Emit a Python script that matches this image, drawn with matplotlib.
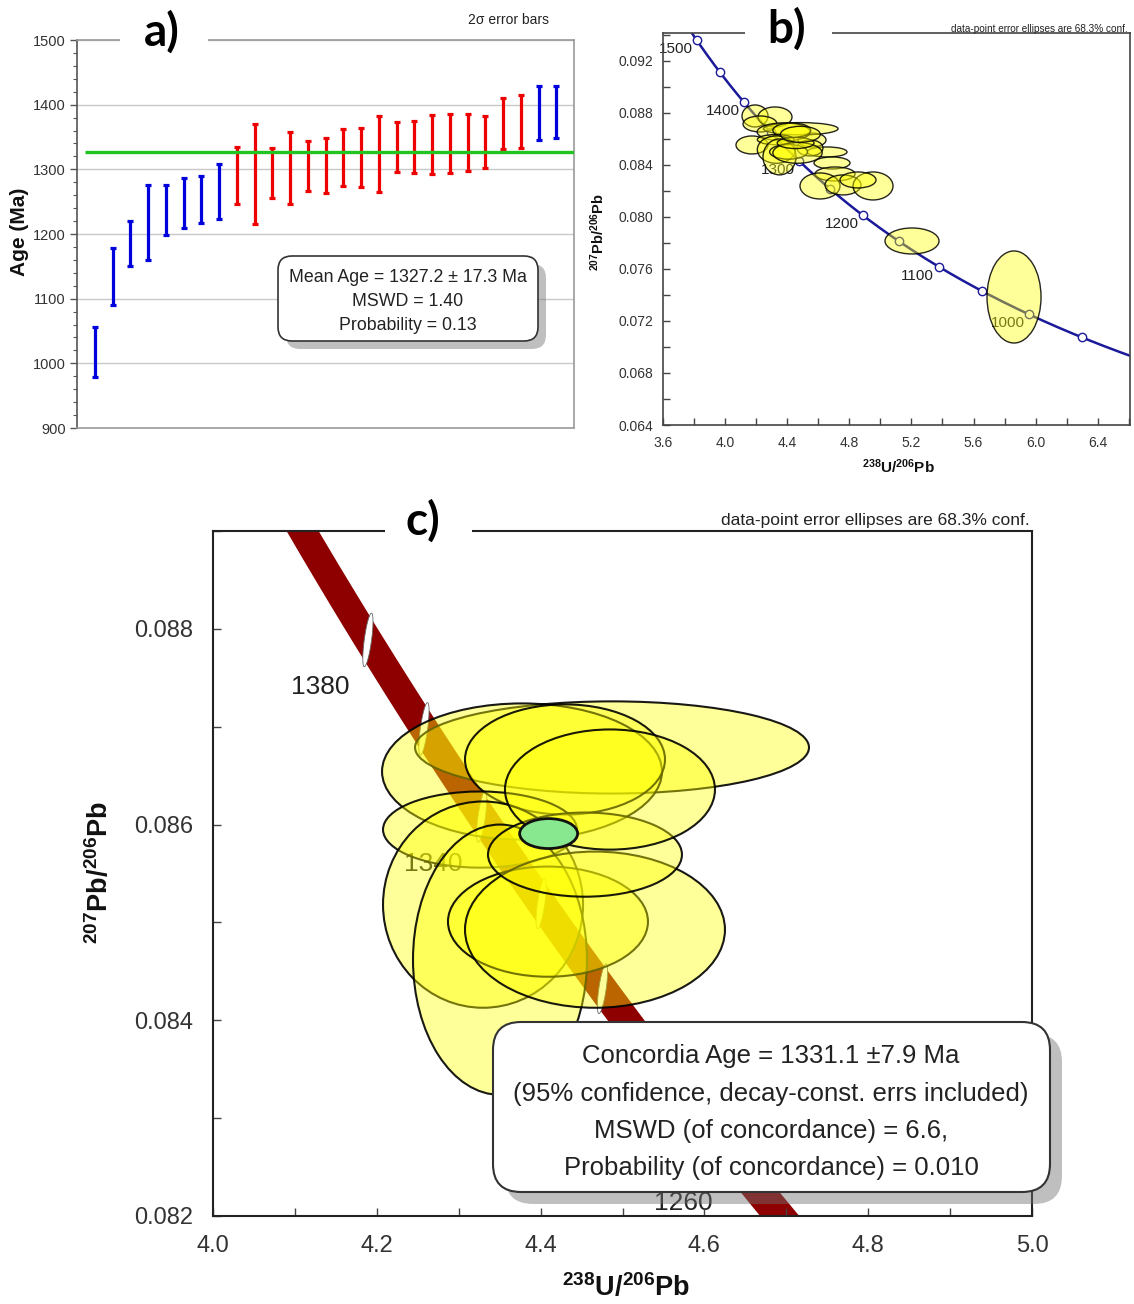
import numpy as np
import matplotlib
matplotlib.use("Agg")
import matplotlib.pyplot as plt
from matplotlib.patches import Ellipse, FancyBboxPatch, Polygon
from matplotlib.ticker import MultipleLocator, FormatStrFormatter

plt.rcParams['font.family'] = ['Liberation Sans', 'DejaVu Sans']
plt.rcParams['mathtext.fontset'] = 'custom'
plt.rcParams['mathtext.rm'] = 'Liberation Sans'
plt.rcParams['mathtext.bf'] = 'Liberation Sans:bold'

# ---------------- panel a: single-grain ages (Ma) with 2-sigma errors ----------------
AGE_MID = [1017.5, 1134.0, 1185.5, 1217.5, 1237.0, 1248.0, 1253.5, 1266.0,
           1291.0, 1293.0, 1294.0, 1302.0, 1305.5, 1306.0, 1318.5, 1318.5,
           1324.0, 1334.5, 1334.5, 1338.5, 1339.5, 1341.0, 1342.0, 1371.0,
           1374.5, 1387.0, 1388.5]
AGE_ERR2S = [38.5, 44.0, 34.5, 57.5, 38.0, 38.0, 36.5, 43.0,
             44.0, 77.0, 39.0, 55.0, 38.5, 42.0, 44.5, 45.5,
             59.0, 38.5, 39.5, 45.5, 45.5, 44.0, 40.0, 40.0,
             41.0, 42.0, 40.5]
# True = included in the weighted mean (red), False = excluded (blue)
AGE_USED = [False] * 8 + [True] * 17 + [False] * 2
MEAN_AGE = 1327.2
MEAN_AGE_ERR = 17.3
MEAN_MSWD = 1.40
MEAN_PROB = 0.13

# ---------------- panels b, c: Tera-Wasserburg data ----------------
# analyses used for the concordia age: 238U/206Pb, 207Pb/206Pb, 1-sigma semi-axes
SEL_X = [4.4872, 4.3773, 4.4298, 4.3260, 4.3297, 4.3504, 4.4090, 4.4664, 4.4542, 4.4847]
SEL_Y = [0.086788, 0.086542, 0.086665, 0.085949, 0.085182, 0.084619, 0.085008,
         0.084926, 0.085693, 0.086358]
SEL_SX = [0.2405, 0.1709, 0.1221, 0.1184, 0.1221, 0.1062, 0.1221, 0.1587, 0.1184, 0.1282]
SEL_SY = [0.000471, 0.000696, 0.000563, 0.000389, 0.001054, 0.001381, 0.000563,
          0.000798, 0.000430, 0.000614]
# other analyses (overview only)
OTH_X = [4.1926, 4.3214, 4.2248, 4.1733, 4.5598, 4.6564, 4.6886, 4.7079, 4.6113,
         4.7594, 4.9527, 4.8560, 4.5469, 5.8610, 5.2039]
OTH_Y = [0.087769, 0.087692, 0.087154, 0.085538, 0.085923, 0.085000, 0.084154,
         0.083308, 0.082385, 0.082462, 0.082385, 0.082846, 0.085308, 0.073846, 0.078154]
OTH_SX = [0.0837, 0.1095, 0.1095, 0.1031, 0.0902, 0.1288, 0.1159, 0.1288, 0.1288,
          0.1159, 0.1288, 0.1160, 0.0837, 0.1739, 0.1739]
OTH_SY = [0.000846, 0.000769, 0.000615, 0.000692, 0.000538, 0.000385, 0.000462,
          0.000538, 0.001000, 0.000769, 0.001077, 0.000615, 0.000615, 0.003540, 0.001000]

# weighted-mean point of the concordia age
CONC_X, CONC_Y = 4.4098, 0.085908
CONC_SX, CONC_SY = 0.0354, 0.000153
CONC_AGE = 1331.1
CONC_AGE_ERR = 7.9
CONC_MSWD = 6.6
CONC_PROB = 0.010

# concordia age ticks
B_TICK_AGES = [1500, 1450, 1400, 1350, 1300, 1250, 1200, 1150, 1100, 1050, 1000, 950]
B_LABEL_AGES = [1500, 1400, 1300, 1200, 1100, 1000]
C_TICK_AGES = [1380, 1360, 1340, 1320, 1300, 1280, 1260]
C_LABEL_AGES = [1380, 1340, 1300, 1260]

# decay constants (1/yr) and present-day 238U/235U
LAMBDA_238 = 1.55125e-10
LAMBDA_235 = 9.8485e-10
U238_U235 = 137.88
LAMBDA_235_REL_ERR = 0.0017


def tera_wasserburg(age_ma, lam235=LAMBDA_235):
    t = np.asarray(age_ma, dtype=float) * 1e6
    e238 = np.expm1(LAMBDA_238 * t)
    e235 = np.expm1(lam235 * t)
    return 1.0 / e238, e235 / e238 / U238_U235


W, H = 1134, 1304
fig = plt.figure(figsize=(W / 100, H / 100), dpi=100)


def px_rect(left, top, right, bottom):
    return [left / W, 1 - bottom / H, (right - left) / W, (bottom - top) / H]


# ======================= panel a =======================
axa = fig.add_axes(px_rect(77, 40, 574, 428))
n = len(AGE_MID)
idx = np.arange(1, n + 1)
axa.set_xlim(0, n + 1)
axa.set_ylim(900, 1500)
mid = np.array(AGE_MID)
err = np.array(AGE_ERR2S)
used = np.array(AGE_USED)
for mask, col in [(~used, '#0000dd'), (used, '#ee0000')]:
    axa.errorbar(idx[mask], mid[mask], yerr=err[mask], fmt='none', ecolor=col,
                 elinewidth=2.3, capsize=2.3, capthick=2.3, zorder=3)
axa.hlines(MEAN_AGE, 0.45, n + 1, color='#22c422', lw=2.4, zorder=4)
axa.yaxis.set_major_locator(MultipleLocator(100))
axa.yaxis.set_minor_locator(MultipleLocator(20))
axa.grid(axis='y', which='major', color='#c8c8c8', lw=1.0, zorder=0)
axa.set_xticks([])
axa.tick_params(axis='y', which='major', direction='out', length=5, width=1,
                color='#555', labelsize=10.5, labelcolor='#333', pad=3)
axa.tick_params(axis='y', which='minor', direction='out', length=3, width=0.8, color='#555')
axa.spines['left'].set_color('#555')
for s in ['top', 'right', 'bottom']:
    axa.spines[s].set_color('#9a9a9a')
for s in axa.spines.values():
    s.set_linewidth(1.2)

# ======================= panel b =======================
axb = fig.add_axes(px_rect(663, 33, 1130, 425))
axb.set_xlim(3.6, 6.608)
axb.set_ylim(0.064, 0.09415)
tc = np.linspace(880, 1560, 500)
cx, cy = tera_wasserburg(tc)
axb.plot(cx, cy, color='#1a1a9a', lw=1.8, zorder=2)
mx, my = tera_wasserburg(B_TICK_AGES)
axb.plot(mx, my, 'o', ms=6, mfc='white', mec='#1a1a9a', mew=1.0, zorder=2.5)
for a in B_LABEL_AGES:
    x0, y0 = tera_wasserburg(a)
    axb.annotate(str(a), (x0, y0), xytext=(-21, -9), textcoords='offset pixels',
                 ha='center', va='center', fontsize=11, color='#222', zorder=1.5)
for x, y, sx, sy in zip(OTH_X + SEL_X, OTH_Y + SEL_Y, OTH_SX + SEL_SX, OTH_SY + SEL_SY):
    axb.add_patch(Ellipse((x, y), 2 * sx, 2 * sy, facecolor=(1, 1, 0, 0.4),
                          edgecolor=(0, 0, 0, 0.85), lw=1.0, zorder=3))
axb.xaxis.set_major_locator(MultipleLocator(0.4))
axb.xaxis.set_minor_locator(MultipleLocator(0.2))
axb.yaxis.set_major_locator(MultipleLocator(0.004))
axb.yaxis.set_minor_locator(MultipleLocator(0.002))
axb.xaxis.set_major_formatter(FormatStrFormatter('%.1f'))
axb.yaxis.set_major_formatter(FormatStrFormatter('%.3f'))
axb.tick_params(which='both', direction='in', length=5, width=1, color='#444',
                labelsize=10, labelcolor='#333')
axb.tick_params(axis='y', pad=7)
axb.tick_params(axis='x', pad=8)
for s in axb.spines.values():
    s.set_color('#444')
    s.set_linewidth(1.2)

# ======================= panel c =======================
axc = fig.add_axes(px_rect(213, 531, 1032, 1216))
axc.set_xlim(4.0, 5.0)
axc.set_ylim(0.082, 0.089)
tb = np.linspace(1200, 1460, 400)
bx, _ = tera_wasserburg(tb)
_, blo = tera_wasserburg(tb, LAMBDA_235 * (1 - LAMBDA_235_REL_ERR))
_, bhi = tera_wasserburg(tb, LAMBDA_235 * (1 + LAMBDA_235_REL_ERR))
axc.fill_between(bx, blo, bhi, color='#8e0000', lw=0, zorder=1)
th = np.linspace(0, 2 * np.pi, 80)
for a in C_TICK_AGES:
    x0, _ = tera_wasserburg(a)
    _, ylo = tera_wasserburg(a, LAMBDA_235 * (1 - LAMBDA_235_REL_ERR))
    _, yhi = tera_wasserburg(a, LAMBDA_235 * (1 + LAMBDA_235_REL_ERR))
    yc = 0.5 * (ylo + yhi)
    hy = 0.5 * (yhi - ylo)
    ex = x0 + 0.0043 * np.sin(th) + 0.0045 * np.cos(th)
    ey = yc + hy * np.sin(th)
    axc.add_patch(Polygon(np.column_stack([ex, ey]), closed=True, facecolor='white',
                          edgecolor='#666', lw=0.6, zorder=1.2))
for a in C_LABEL_AGES:
    x0, y0 = tera_wasserburg(a)
    axc.annotate(str(a), (x0, y0), xytext=(-48, -47), textcoords='offset pixels',
                 ha='center', va='center', fontsize=19, color='#222', zorder=1.5)
for x, y, sx, sy in zip(SEL_X, SEL_Y, SEL_SX, SEL_SY):
    axc.add_patch(Ellipse((x, y), 2 * sx, 2 * sy, facecolor=(1, 1, 0, 0.4),
                          edgecolor=(0, 0, 0, 0.9), lw=1.5, zorder=3))
axc.add_patch(Ellipse((CONC_X, CONC_Y), 2 * CONC_SX, 2 * CONC_SY, facecolor='#88e890',
                      edgecolor='#111', lw=2.0, zorder=4))
axc.xaxis.set_major_locator(MultipleLocator(0.2))
axc.xaxis.set_minor_locator(MultipleLocator(0.1))
axc.yaxis.set_major_locator(MultipleLocator(0.002))
axc.yaxis.set_minor_locator(MultipleLocator(0.001))
axc.xaxis.set_major_formatter(FormatStrFormatter('%.1f'))
axc.yaxis.set_major_formatter(FormatStrFormatter('%.3f'))
axc.tick_params(which='both', direction='in', length=6, width=1, color='#444',
                labelsize=17, labelcolor='#333', pad=14)
for s in axc.spines.values():
    s.set_color('#222')
    s.set_linewidth(1.5)

# ======================= annotations in pixel space =======================
ov = fig.add_axes([0, 0, 1, 1], zorder=10)
ov.set_xlim(0, W)
ov.set_ylim(H, 0)
ov.axis('off')
ov.patch.set_alpha(0)


def stat_box(x0, y0, x1, y1, r, shadow, lw):
    ov.add_patch(FancyBboxPatch((x0 + shadow, y0 + shadow), x1 - x0, y1 - y0,
                                boxstyle=f'round,pad=0,rounding_size={r}',
                                facecolor=(0.45, 0.45, 0.45, 0.45), edgecolor='none'))
    ov.add_patch(FancyBboxPatch((x0, y0), x1 - x0, y1 - y0,
                                boxstyle=f'round,pad=0,rounding_size={r}',
                                facecolor='white', edgecolor='#333', lw=lw))


stat_box(278, 256, 538, 341, 14, 8, 1.2)
ov.text(408, 277, f'Mean Age = {MEAN_AGE:.1f} \u00b1 {MEAN_AGE_ERR:.1f} Ma', ha='center',
        va='center', fontsize=12.8, color='#222')
ov.text(408, 301, f'MSWD = {MEAN_MSWD:.2f}', ha='center', va='center', fontsize=12.8, color='#222')
ov.text(408, 326, f'Probability = {MEAN_PROB:.2f}', ha='center', va='center',
        fontsize=12.8, color='#222')

stat_box(493, 1022, 1050, 1192, 28, 12, 1.5)
c_lines = [f'Concordia Age = {CONC_AGE:.1f} \u00b1{CONC_AGE_ERR:.1f} Ma',
           '(95% confidence, decay-const. errs included)',
           f'MSWD (of concordance) = {CONC_MSWD:.1f},',
           f'Probability (of concordance) = {CONC_PROB:.3f}']
for yy, s in zip([1056, 1094, 1131, 1168], c_lines):
    ov.text(771, yy, s, ha='center', va='center', fontsize=18.5, color='#222')

ov.text(508, 20, '2\u03c3 error bars', ha='center', va='center', fontsize=10, color='#222')
ov.text(1128, 29, 'data-point error ellipses are 68.3% conf.', ha='right', va='center',
        fontsize=7.2, color='#222')
ov.text(1030, 521, 'data-point error ellipses are 68.3% conf.', ha='right', va='center',
        fontsize=12.5, color='#222')

ov.text(20, 232, 'Age (Ma)', rotation=90, ha='center', va='center', fontsize=15,
        fontweight='bold', color='#111')
ov.text(898, 467, r'$\mathbf{^{238}U/^{206}Pb}$', ha='center', va='center', fontsize=11,
        color='#111')
ov.text(598, 232, r'$\mathbf{^{207}Pb/^{206}Pb}$', rotation=90, ha='center', va='center',
        fontsize=10.5, color='#111')
ov.text(626, 1288, r'$\mathbf{^{238}U/^{206}Pb}$', ha='center', va='center', fontsize=19.5,
        color='#111')
ov.text(100, 872, r'$\mathbf{^{207}Pb/^{206}Pb}$', rotation=90, ha='center', va='center',
        fontsize=19.5, color='#111')

for lab, x, y, x0, x1 in [('a)', 162, 32, 120, 208), ('b)', 787, 29, 745, 832),
                          ('c)', 423, 521, 385, 472)]:
    ov.add_patch(plt.Rectangle((x0, y - 22), x1 - x0, 44, facecolor='white',
                               edgecolor='none'))
    ov.text(x, y, lab, ha='center', va='center', fontsize=33, fontweight='bold',
            family=['Lato', 'DejaVu Sans'], color='black')

fig.savefig('out.png', dpi=100)
